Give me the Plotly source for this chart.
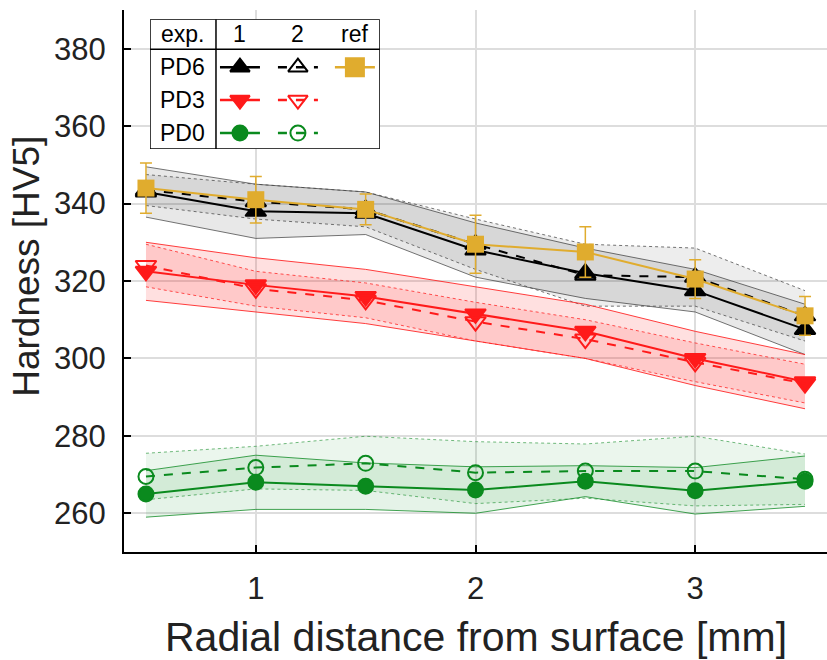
import plotly.graph_objects as go

# Radial positions of the indentation rows [mm]
dist = [0.5, 1.0, 1.5, 2.0, 2.5, 3.0, 3.5]

# PD6 hardness [HV5]: experiment 1, experiment 2, reference
pd6_exp1 = [343.0, 338.0, 337.5, 328.0, 322.0, 317.5, 307.5]
pd6_exp1_sd = [6.5, 7.0, 5.5, 7.0, 6.5, 5.5, 6.5]
pd6_exp2 = [343.5, 340.5, 338.5, 329.5, 321.5, 321.0, 311.0]
pd6_exp2_sd = [4.0, 4.5, 4.5, 6.5, 8.0, 7.5, 6.5]
pd6_ref = [344.0, 341.0, 338.5, 329.5, 327.5, 320.5, 311.0]
pd6_ref_sd = [6.5, 6.0, 4.0, 7.5, 6.5, 5.0, 5.0]

# PD3 hardness [HV5]
pd3_exp1 = [322.5, 319.0, 316.0, 311.5, 307.0, 300.0, 294.0]
pd3_exp1_sd = [7.5, 7.0, 7.0, 7.0, 7.0, 7.0, 7.0]
pd3_exp2 = [324.0, 318.0, 315.0, 309.5, 305.0, 299.0, 293.5]
pd3_exp2_sd = [5.5, 4.5, 4.5, 5.0, 5.0, 5.0, 5.0]

# PD0 hardness [HV5]
pd0_exp1 = [265.0, 268.0, 267.0, 266.0, 268.3, 265.8, 268.3]
pd0_exp1_sd = [6.0, 7.0, 6.0, 6.0, 4.0, 6.0, 6.5]
pd0_exp2 = [269.5, 271.8, 272.9, 270.5, 270.9, 270.9, 268.8]
pd0_exp2_sd = [6.0, 5.5, 7.0, 8.0, 7.0, 9.0, 6.5]

y_ticks = [260, 280, 300, 320, 340, 360, 380]
x_ticks = [1, 2, 3]

BLACK = "#000000"
RED = "#ff1a1a"
GREEN = "#0a8a1e"
GOLD = "#e0ac2e"
FONT = "Liberation Sans, Arial, sans-serif"

fig = go.Figure()


def band(mean, sd, line_col, fill_col, dash):
    up = [m + s for m, s in zip(mean, sd)]
    lo = [m - s for m, s in zip(mean, sd)]
    fig.add_trace(go.Scatter(x=dist, y=up, mode="lines",
                             line=dict(color=line_col, width=1, dash=dash),
                             showlegend=False, hoverinfo="skip"))
    fig.add_trace(go.Scatter(x=dist, y=lo, mode="lines", fill="tonexty",
                             fillcolor=fill_col,
                             line=dict(color=line_col, width=1, dash=dash),
                             showlegend=False, hoverinfo="skip"))


# scatter bands (solid border: exp. 1, dotted border: exp. 2)
band(pd6_exp1, pd6_exp1_sd, "rgba(70,70,70,0.75)", "rgba(0,0,0,0.09)", "solid")
band(pd6_exp2, pd6_exp2_sd, "rgba(70,70,70,0.75)", "rgba(0,0,0,0.07)", "dot")
band(pd3_exp1, pd3_exp1_sd, "rgba(255,40,40,0.9)", "rgba(255,0,0,0.12)", "solid")
band(pd3_exp2, pd3_exp2_sd, "rgba(255,40,40,0.8)", "rgba(255,0,0,0.10)", "dot")
band(pd0_exp1, pd0_exp1_sd, "rgba(20,140,40,0.8)", "rgba(0,140,30,0.10)", "solid")
band(pd0_exp2, pd0_exp2_sd, "rgba(20,140,40,0.6)", "rgba(0,140,30,0.08)", "dot")


def series(y, col, symbol, dash, size):
    fig.add_trace(go.Scatter(x=dist, y=y, mode="lines+markers",
                             line=dict(color=col, width=2, dash=dash),
                             marker=dict(symbol=symbol, size=size, color=col,
                                         line=dict(color=col, width=2)),
                             showlegend=False))


series(pd0_exp1, GREEN, "circle", "solid", 15)
series(pd0_exp2, GREEN, "circle-open", "dash", 15)
series(pd3_exp1, RED, "triangle-down", "solid", 18)
series(pd3_exp2, RED, "triangle-down-open", "dash", 18)
series(pd6_exp1, BLACK, "triangle-up", "solid", 18)
series(pd6_exp2, BLACK, "triangle-up-open", "dash", 18)
fig.add_trace(go.Scatter(x=dist, y=pd6_ref, mode="lines+markers",
                         line=dict(color=GOLD, width=2),
                         marker=dict(symbol="square", size=17, color=GOLD),
                         error_y=dict(type="data", array=pd6_ref_sd, color=GOLD,
                                      thickness=1.5, width=6),
                         showlegend=False))

# ---- table-style key, drawn on a helper axis (units = pixels of the box)
KW, KH = 230, 130
col_x = {"1": 90, "2": 148, "ref": 205}
row_y = {"PD6": 82, "PD3": 49, "PD0": 16}
HALF = 20

fig.add_trace(go.Scatter(x=[0, KW, KW, 0, 0], y=[0, 0, KH, KH, 0],
                         mode="lines", fill="toself", fillcolor="white",
                         line=dict(color=BLACK, width=1.5),
                         xaxis="x2", yaxis="y2", showlegend=False, hoverinfo="skip"))
fig.add_trace(go.Scatter(x=[0, KW, None, 66, 66], y=[100, 100, None, 0, KH],
                         mode="lines", line=dict(color=BLACK, width=1.5),
                         xaxis="x2", yaxis="y2", showlegend=False, hoverinfo="skip"))

key_entries = [
    ("PD6", "1", BLACK, "triangle-up", "solid", 17),
    ("PD6", "2", BLACK, "triangle-up-open", "dash", 17),
    ("PD6", "ref", GOLD, "square", "solid", 18),
    ("PD3", "1", RED, "triangle-down", "solid", 17),
    ("PD3", "2", RED, "triangle-down-open", "dash", 17),
    ("PD0", "1", GREEN, "circle", "solid", 15),
    ("PD0", "2", GREEN, "circle-open", "dash", 15),
]
for row, col, c, sym, dash, sz in key_entries:
    cx, cy = col_x[col], row_y[row]
    fig.add_trace(go.Scatter(x=[cx - HALF, cx + HALF], y=[cy, cy], mode="lines",
                             line=dict(color=c, width=2.5, dash=dash),
                             xaxis="x2", yaxis="y2", showlegend=False, hoverinfo="skip"))
    fig.add_trace(go.Scatter(x=[cx], y=[cy], mode="markers",
                             marker=dict(symbol=sym, size=sz, color=c,
                                         line=dict(color=c, width=2)),
                             xaxis="x2", yaxis="y2", showlegend=False, hoverinfo="skip"))

key_text = [("exp.", 33, 115), ("1", col_x["1"], 115), ("2", col_x["2"], 115),
            ("ref", col_x["ref"], 115)]
key_text += [(r, 33, y) for r, y in row_y.items()]
for t, x, y in key_text:
    fig.add_annotation(x=x, y=y, xref="x2", yref="y2", text=t, showarrow=False,
                       font=dict(family=FONT, size=23, color=BLACK))

tick_font = dict(family=FONT, size=31, color="#222222")

# axis titles
fig.add_annotation(text="Radial distance from surface [mm]", xref="paper", yref="paper",
                   x=0.5, y=-0.157, xanchor="center", yanchor="middle", showarrow=False,
                   font=dict(family=FONT, size=41, color="#222222"))
fig.add_annotation(text="Hardness [HV5]", xref="paper", yref="paper", textangle=-90,
                   x=-0.138, y=0.528, xanchor="center", yanchor="middle", showarrow=False,
                   font=dict(family=FONT, size=37, color="#222222"))

fig.update_layout(
    width=827, height=660,
    margin=dict(l=124, r=0, t=10, b=108),
    paper_bgcolor="white", plot_bgcolor="white",
    xaxis=dict(range=[0.4, 3.6], tickvals=x_ticks, ticks="inside", ticklen=7,
               tickwidth=2, tickcolor=BLACK, showline=True, linecolor=BLACK,
               linewidth=2, showgrid=True, gridcolor="#dddddd", gridwidth=2,
               zeroline=False, tickfont=tick_font, ticklabelstandoff=8),
    yaxis=dict(range=[250, 390], tickvals=y_ticks, ticks="inside", ticklen=7,
               tickwidth=2, tickcolor=BLACK, showline=True, linecolor=BLACK,
               linewidth=2, showgrid=True, gridcolor="#dddddd", gridwidth=2,
               zeroline=False, tickfont=tick_font, ticklabelstandoff=10),
    xaxis2=dict(domain=[0.037, 0.364], range=[0, KW], anchor="y2", visible=False,
                fixedrange=True),
    yaxis2=dict(domain=[0.7435, 0.983], range=[0, KH], anchor="x2", visible=False,
                fixedrange=True),
    showlegend=False,
)

fig.write_html("out.html")
